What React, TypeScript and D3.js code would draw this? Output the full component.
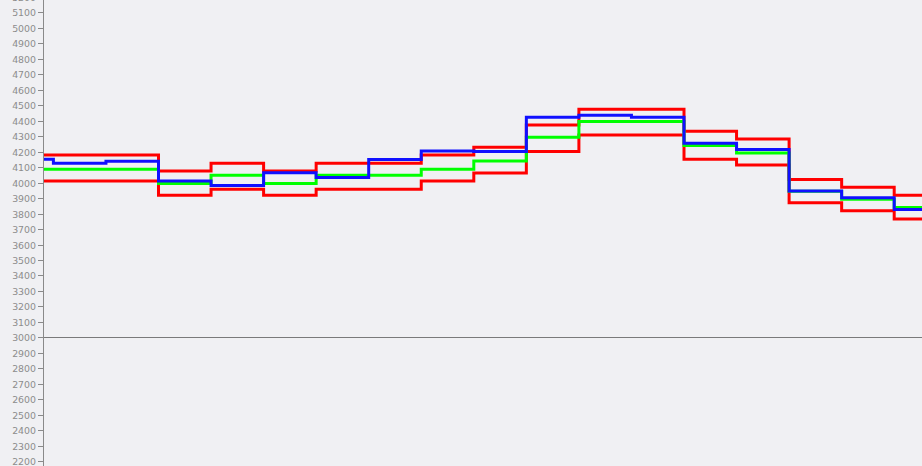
import React from "react";
import * as d3 from "d3";

// segment indices (each segment starts at its index; -1 is the partially visible one)
const segments = [-1, 0, 1, 2, 3, 4, 5, 6, 7, 8, 9, 10, 11, 12, 13, 14, 15, 16];
const upperRed = [4178, 4178, 4178, 4075, 4125, 4075, 4125, 4125, 4178, 4228, 4372, 4474, 4474, 4332, 4282, 4021, 3971, 3918];
const lowerRed = [4010, 4010, 4010, 3918, 3957, 3918, 3957, 3957, 4010, 4062, 4202, 4308, 4308, 4151, 4114, 3870, 3818, 3765];
const greenMid = [4086, 4086, 4086, 3995, 4047, 3995, 4047, 4047, 4086, 4140, 4293, 4396, 4396, 4240, 4191, 3944, 3892, 3840];
const blueLine = [4152, 4125, 4138, 4010, 3982, 4064, 4034, 4150, 4204, 4202, 4422, 4435, 4422, 4254, 4215, 3946, 3903, 3827];
const yTicks = [2200, 2300, 2400, 2500, 2600, 2700, 2800, 2900, 3000, 3100, 3200, 3300, 3400, 3500, 3600, 3700, 3800, 3900, 4000, 4100, 4200, 4300, 4400, 4500, 4600, 4700, 4800, 4900, 5000, 5100, 5200];
const baseValue = 3000;

const W = 922;
const H = 466;
const axisX = 43;

export default function App() {
  const x = d3.scaleLinear().domain([0, 16]).range([53.4, 894.2]);
  const y = d3.scaleLinear().domain([2200, 5200]).range([461.1, -3.0]);

  const mk = (vals: number[]) => {
    const pts: [number, number][] = segments.map((s, i) => [s, vals[i]]);
    pts.push([segments[segments.length - 1] + 1, vals[vals.length - 1]]);
    return d3
      .line<[number, number]>()
      .x((d) => x(d[0]))
      .y((d) => y(d[1]))
      .curve(d3.curveStepAfter)(pts) as string;
  };

  const series = [
    { vals: lowerRed, color: "#ff0000" },
    { vals: upperRed, color: "#ff0000" },
    { vals: greenMid, color: "#00ff00" },
    { vals: blueLine, color: "#1010ff" },
  ];

  return (
    <svg
      width={W}
      height={H}
      style={{ position: "absolute", left: 0, top: 0, background: "#f0f0f3", display: "block" }}
    >
      <defs>
        <clipPath id="plot">
          <rect x={axisX + 1} y={0} width={W - axisX - 1} height={H} />
        </clipPath>
      </defs>
      <rect x={0} y={0} width={W} height={H} fill="#f0f0f3" />
      <line
        x1={axisX}
        x2={W}
        y1={Math.round(y(baseValue)) + 0.5}
        y2={Math.round(y(baseValue)) + 0.5}
        stroke="#7a7a7a"
        strokeWidth={1}
      />
      <g clipPath="url(#plot)">
        {series.map((s, i) => (
          <path
            key={i}
            d={mk(s.vals)}
            fill="none"
            stroke={s.color}
            strokeWidth={3}
            strokeLinejoin="miter"
          />
        ))}
      </g>
      <line x1={axisX + 0.5} x2={axisX + 0.5} y1={0} y2={H} stroke="#8a8a8a" strokeWidth={1} />
      {yTicks.map((t) => {
        const yy = Math.round(y(t)) + 0.5;
        return (
          <g key={t}>
            <line x1={axisX - 5} x2={axisX} y1={yy} y2={yy} stroke="#8a8a8a" strokeWidth={1} />
            <text
              x={axisX - 7}
              y={yy}
              dy="0.35em"
              textAnchor="end"
              fontFamily="DejaVu Sans, Verdana, sans-serif"
              fontSize={9.4}
              fill="#8c8c8c"
            >
              {t}
            </text>
          </g>
        );
      })}
    </svg>
  );
}
